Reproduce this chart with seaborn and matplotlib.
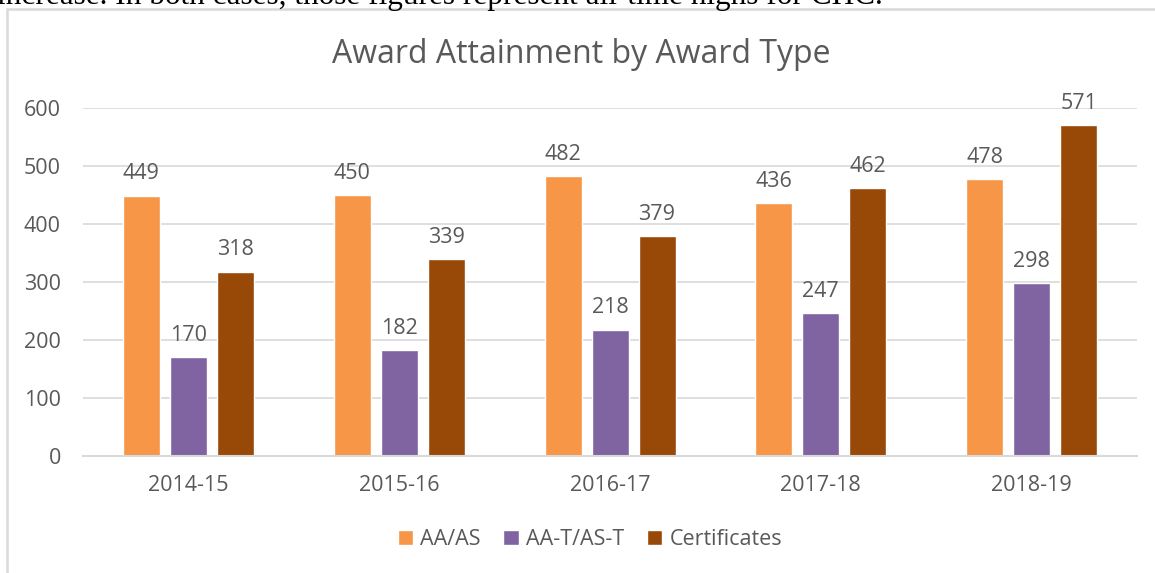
import pandas as pd
import matplotlib
matplotlib.use("Agg")
import matplotlib.pyplot as plt
import seaborn as sns
from matplotlib.patches import Rectangle

# ---- data ----
years = ["2014-15", "2015-16", "2016-17", "2017-18", "2018-19"]
award_types = ["AA/AS", "AA-T/AS-T", "Certificates"]
aa_as = [449, 450, 482, 436, 478]
aat_ast = [170, 182, 218, 247, 298]
certificates = [318, 339, 379, 462, 571]
y_ticks = [0, 100, 200, 300, 400, 500, 600]

colors = ["#F79646", "#8064A2", "#984807"]
text_grey = "#595959"
grid_grey = "#D9D9D9"

df = pd.DataFrame({
    "Year": years * 3,
    "Award": [award_types[0]] * 5 + [award_types[1]] * 5 + [award_types[2]] * 5,
    "Count": aa_as + aat_ast + certificates,
})

sns.set_theme(style="white")
plt.rcParams["font.family"] = ["Open Sans", "DejaVu Sans"]

fig = plt.figure(figsize=(11.55, 5.73), dpi=100)
ax = fig.add_axes([0.0719, 0.2042, 0.9125, 0.6073])

sns.barplot(data=df, x="Year", y="Count", hue="Award", palette=colors,
            width=0.669, gap=0.213, ax=ax, saturation=1, legend=True)

for c in ax.containers:
    ax.bar_label(c, padding=8, fontsize=15.5, color=text_grey)

ax.set_xlim(-0.5, 4.5)
ax.set_ylim(0, 600)
ax.set_yticks(y_ticks)
ax.yaxis.grid(True, color=grid_grey, linewidth=1.2)
ax.set_axisbelow(True)
for s in ["top", "right", "left"]:
    ax.spines[s].set_visible(False)
ax.spines["bottom"].set_color(grid_grey)
ax.spines["bottom"].set_linewidth(1.5)
ax.tick_params(axis="both", length=0, labelsize=15.5, labelcolor=text_grey)
ax.tick_params(axis="y", pad=16)
ax.tick_params(axis="x", pad=14)
ax.set_xlabel("")
ax.set_ylabel("")

ax.set_title("Award Attainment by Award Type", fontsize=23, color=text_grey,
             x=0.4725, y=1.129, pad=0)

handles, labels = ax.get_legend_handles_labels()
ax.legend(handles, labels, loc="center", bbox_to_anchor=(0.481, -0.241),
          ncol=3, frameon=False, fontsize=15.5, labelcolor=text_grey,
          handlelength=0.7, handleheight=0.7, handletextpad=0.35,
          columnspacing=1.05)

# chart frame (document-style border), cut at the right and bottom
fig.patches.append(Rectangle((7 / 1155, -0.1), 1.2, 1 - 9 / 573 + 0.1,
                             transform=fig.transFigure, fill=False,
                             edgecolor=grid_grey, linewidth=1.8))

# cropped line of document text above the chart
fig.text(-0.003, 1 - 4 / 573,
         "increase. In both cases, those figures represent all-time highs for CHC.",
         family=["Liberation Serif", "DejaVu Serif"], fontsize=22.5,
         color="black", va="baseline", ha="left")

fig.savefig("out.png", dpi=100)
